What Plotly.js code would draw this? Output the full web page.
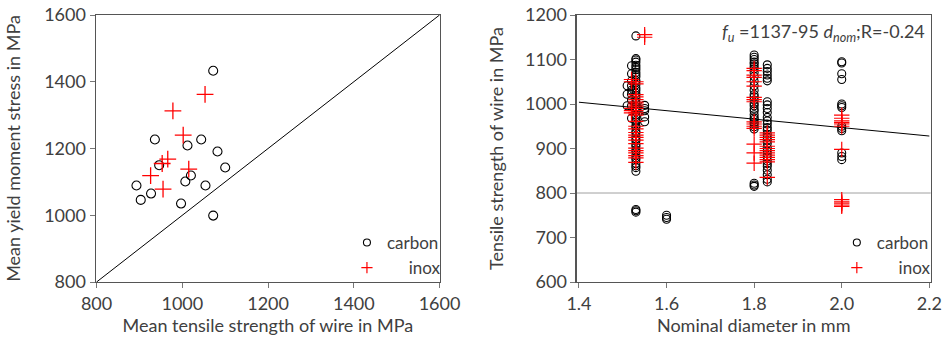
<!DOCTYPE html>
<html>
<head>
<meta charset="utf-8">
<script src="https://cdn.plot.ly/plotly-3.0.1.min.js"></script>
<style>html,body{margin:0;padding:0;background:#fff;}#chart{width:945px;height:341px;}</style>
</head>
<body>
<div id="chart"></div>
<script>
// ---- Left panel: mean values ----
const carbonTensile = [1072, 936, 1044, 1012, 1082, 946, 1100, 1020, 1007, 1054, 893, 927, 903, 997, 1072];
const carbonYield   = [1433, 1227, 1227, 1209, 1191, 1150, 1143, 1119, 1101, 1089, 1089, 1065, 1046, 1035, 999];
const inoxTensile   = [1053, 978, 1002, 966, 953, 926, 1015, 955];
const inoxYield     = [1362, 1313, 1240, 1168, 1155, 1119, 1138, 1078];
const diagX = [800, 1600];
const diagY = [800, 1600];

// ---- Right panel: tensile strength by nominal diameter ----
const carbon151 = [1041, 1022, 996];
const carbon152 = [1086, 1068, 1052, 1041, 1031, 1022, 1009, 996, 968];
const carbon153 = [1153, 1102, 1099, 1094, 1087, 1082, 1077, 1071, 1066, 1061, 1053, 1049, 1043, 1036, 1031, 1024, 1019, 1013, 1005, 1001, 994, 989, 983, 975, 971, 963, 959, 951, 947, 939, 935, 927, 921, 917, 909, 905, 897, 893, 885, 879, 875, 867, 861, 857, 849, 763, 760, 757];
const carbon155 = [997, 990, 985, 971, 960];
const carbon160 = [750, 745, 741];
const carbon180 = [1110, 1105, 1100, 1094, 1090, 1084, 1079, 1071, 1062, 1051, 1041, 1031, 1021, 1016, 1009, 1001, 996, 989, 984, 976, 969, 965, 959, 955, 949, 944, 822, 818, 815];
const carbon183 = [1088, 1080, 1073, 1065, 1058, 1052, 1005, 998, 990, 981, 970, 962, 955, 947, 941, 932, 925, 918, 911, 902, 895, 888, 881, 872, 866, 860, 851, 841, 831, 825];
const carbon200 = [1095, 1092, 1068, 1055, 1000, 996, 992, 950, 945, 940, 890, 882, 875];
const inox152 = [1055, 1050, 990, 985, 980];
const inox153 = [1050, 1045, 1021, 1016, 1010, 1004, 1000, 995, 990, 985, 980, 975, 961, 950, 944, 936, 930, 925, 919, 911, 901, 895, 890, 884, 879, 869];
const inox155 = [1156, 1150];
const inox180 = [1080, 1075, 1065, 1060, 1050, 1040, 1015, 1010, 1005, 960, 955, 950, 945, 910, 890, 867];
const inox183 = [935, 930, 925, 920, 915, 905, 900, 895, 890, 885, 880, 875, 870, 835];
const inox200 = [975, 968, 962, 958, 955, 950, 898, 785, 780, 777, 773, 770];
const fitIntercept = 1137;
const fitSlope = -95;
const fitRange = [1.4, 2.2];
const limitFu = 800;
const annotationText = '<i>f</i><sub><i>u</i></sub> =1137-95 <i>d</i><sub><i>nom</i></sub>;R=-0.24';
const legendNames = ['carbon', 'inox'];

function group(pairs) {
  const x = [], y = [];
  pairs.forEach(([d, vals]) => vals.forEach(v => { x.push(d); y.push(v); }));
  return {x, y};
}
const carbonR = group([[1.51, carbon151], [1.52, carbon152], [1.53, carbon153], [1.55, carbon155], [1.6, carbon160], [1.8, carbon180], [1.83, carbon183], [2.0, carbon200]]);
const inoxR = group([[1.52, inox152], [1.53, inox153], [1.55, inox155], [1.8, inox180], [1.83, inox183], [2.0, inox200]]);

const FONT = 'Lato, "Open Sans", sans-serif';
const TXT = '#404040';
const FS = 18;
const circ = {symbol: 'circle-open', size: 9, color: '#000', line: {width: 1.1, color: '#000'}};
const circR = {symbol: 'circle-open', size: 8, color: '#000', line: {width: 1.1, color: '#000'}};
const crossL = {symbol: 'cross-thin-open', size: 12, color: '#ff0000', line: {width: 1.3, color: '#ff0000'}};
const crossR = {symbol: 'cross-thin-open', size: 11, color: '#ff0000', line: {width: 1.2, color: '#ff0000'}};
const legCirc = {symbol: 'circle-open', size: 7, color: '#000', line: {width: 1.1, color: '#000'}};
const legCross = {symbol: 'cross-thin-open', size: 8, color: '#ff0000', line: {width: 1.2, color: '#ff0000'}};
const PAD = '\u00a0'.repeat(5);

function legendTraces(xa, ya, leg) {
  return [
    {x: [null], y: [null], mode: 'markers', name: legendNames[0], marker: legCirc, xaxis: xa, yaxis: ya, legend: leg},
    {x: [null], y: [null], mode: 'markers', name: PAD + legendNames[1], marker: legCross, xaxis: xa, yaxis: ya, legend: leg}
  ];
}

const traces = [
  {x: diagX, y: diagY, mode: 'lines', line: {color: '#000', width: 1}, showlegend: false, xaxis: 'x', yaxis: 'y', hoverinfo: 'skip'},
  {x: carbonTensile, y: carbonYield, mode: 'markers', name: 'carbon', marker: circ, xaxis: 'x', yaxis: 'y', showlegend: false},
  {x: inoxTensile, y: inoxYield, mode: 'markers', name: 'inox', marker: crossL, xaxis: 'x', yaxis: 'y', showlegend: false},
  ...legendTraces('x', 'y', 'legend'),
  {x: fitRange, y: fitRange.map(d => fitIntercept + fitSlope * d), mode: 'lines', line: {color: '#000', width: 1}, showlegend: false, xaxis: 'x2', yaxis: 'y2', hoverinfo: 'skip'},
  {x: carbonR.x, y: carbonR.y, mode: 'markers', name: 'carbon', marker: circR, xaxis: 'x2', yaxis: 'y2', showlegend: false},
  {x: inoxR.x, y: inoxR.y, mode: 'markers', name: 'inox', marker: crossR, xaxis: 'x2', yaxis: 'y2', showlegend: false},
  ...legendTraces('x2', 'y2', 'legend2')
];

const titleFont = {family: FONT, size: FS, color: TXT};
const axisBase = {
  showline: true, mirror: true, linecolor: '#555', linewidth: 1.2,
  ticks: 'outside', ticklen: 5, tickcolor: '#777', tickwidth: 1,
  showgrid: false, zeroline: false,
  tickfont: {family: FONT, size: FS, color: TXT}
};
const legendBase = {
  font: {family: FONT, size: 17, color: TXT},
  bgcolor: 'rgba(0,0,0,0)', xanchor: 'right', yanchor: 'bottom',
  tracegroupgap: 0, itemwidth: 30
};

const layout = {
  width: 945, height: 341,
  margin: {l: 0, r: 0, t: 15, b: 59},
  paper_bgcolor: '#fff', plot_bgcolor: '#fff',
  font: {family: FONT, color: TXT},
  xaxis: Object.assign({}, axisBase, {domain: [0.1013, 0.4656], range: [798, 1601], dtick: 200, tick0: 800,
    title: {text: 'Mean tensile strength of wire in MPa', font: titleFont, standoff: 5}}),
  yaxis: Object.assign({}, axisBase, {domain: [0, 1], range: [800, 1600], dtick: 200, tick0: 800,
    title: {text: 'Mean yield moment stress in MPa', font: titleFont, standoff: 18}}),
  xaxis2: Object.assign({}, axisBase, {anchor: 'y2', domain: [0.6102, 0.9849], range: [1.3947, 2.2032], dtick: 0.2, tick0: 1.4, tickformat: '.1f',
    title: {text: 'Nominal diameter in mm', font: titleFont, standoff: 5}}),
  yaxis2: Object.assign({}, axisBase, {anchor: 'x2', domain: [0, 1], range: [600, 1200], dtick: 100, tick0: 600,
    title: {text: 'Tensile strength of wire in MPa', font: titleFont, standoff: 16}}),
  legend: Object.assign({}, legendBase, {x: 0.4719, y: -0.015}),
  legend2: Object.assign({}, legendBase, {x: 0.9903, y: -0.015}),
  shapes: [
    {type: 'line', xref: 'x2 domain', yref: 'y2', x0: 0, x1: 1, y0: limitFu, y1: limitFu, line: {color: '#a0a0a0', width: 1}, layer: 'below'}
  ],
  annotations: [
    {xref: 'x2 domain', yref: 'y2 domain', x: 0.99, y: 0.99, xanchor: 'right', yanchor: 'top', showarrow: false,
     text: annotationText, font: {family: FONT, size: FS, color: TXT}}
  ]
};

Plotly.newPlot('chart', traces, layout, {staticPlot: true, displayModeBar: false});
</script>
</body>
</html>
